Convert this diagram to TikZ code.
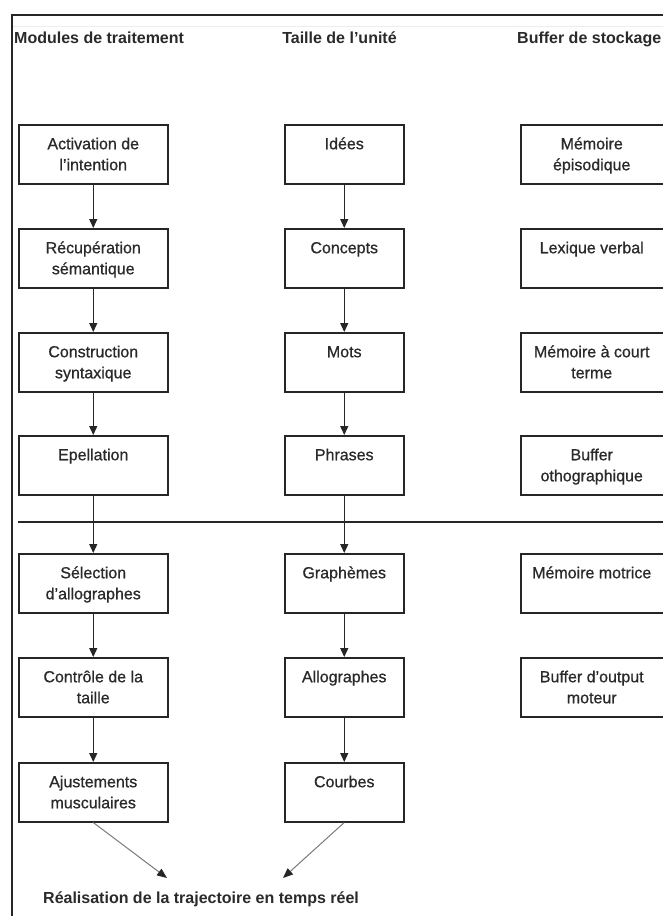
\documentclass[tikz,border=0pt]{standalone}
\usepackage{fontspec}
\setmainfont{Liberation Sans}
\newfontfamily\boxfont{Liberation Sans}[FakeBold=0.7]
\usetikzlibrary{arrows.meta}

\definecolor{ink}{HTML}{2A2A2A}
\definecolor{frame}{HTML}{262626}
\definecolor{soft}{HTML}{7A7A7A}

% fixed-height text block: lines start near the top of the box
\newcommand\boxtext[2]{\vbox to 59pt{\hsize=#1\relax\centering\vskip 9.8pt\relax\strut #2\par\vss}}

\tikzset{
  base font/.style={font=\boxfont\fontsize{16}{21}\selectfont, text=ink},
  head/.style={font=\fontsize{16}{21}\selectfont\bfseries, text=ink, inner sep=0pt, anchor=base west},
  stage/.style={base font, draw=frame, line width=1.5pt, rectangle, inner sep=0pt,
    minimum height=59pt, anchor=north west},
  flow/.style={draw=frame, line width=1.3pt, -{Triangle[length=9pt,width=8pt]}},
  merge/.style={draw=soft, line width=1pt, -{Triangle[length=10pt,width=8pt,fill=frame,color=frame]}},
}

\begin{document}
\begin{tikzpicture}[x=1pt, y=-1pt]
  \useasboundingbox (0,0) rectangle (663,916);
  \fill[white] (0,0) rectangle (663,916);
  \clip (0,0) rectangle (663,916);

  % outer frame (top and left edges) and the thin rule under it
  \draw[draw=frame, line width=2pt] (11.5,930) -- (11.5,15) -- (680,15);
  \draw[draw=black!7, line width=1.5pt] (13,26.5) -- (680,26.5);

  % column headings
  \node[head] (h1) at (14,43) {Modules de traitement};
  \node[head, anchor=base] (h2) at (339.5,43) {Taille de l’unité};
  \node[head] (h3) at (517,43) {Buffer de stockage};

  % processing modules
  \node[stage] (a1) at (18,124) {\boxtext{149pt}{Activation de\\l’intention}};
  \node[stage] (a2) at (18,228) {\boxtext{149pt}{Récupération\\sémantique}};
  \node[stage] (a3) at (18,332) {\boxtext{149pt}{Construction\\syntaxique}};
  \node[stage] (a4) at (18,435) {\boxtext{149pt}{Epellation}};
  \node[stage] (a5) at (18,553) {\boxtext{149pt}{Sélection\\d’allographes}};
  \node[stage] (a6) at (18,657) {\boxtext{149pt}{Contrôle de la\\taille}};
  \node[stage] (a7) at (18,762) {\boxtext{149pt}{Ajustements\\musculaires}};

  % unit size
  \node[stage] (b1) at (284,124) {\boxtext{119pt}{Idées}};
  \node[stage] (b2) at (284,228) {\boxtext{119pt}{Concepts}};
  \node[stage] (b3) at (284,332) {\boxtext{119pt}{Mots}};
  \node[stage] (b4) at (284,435) {\boxtext{119pt}{Phrases}};
  \node[stage] (b5) at (284,553) {\boxtext{119pt}{Graphèmes}};
  \node[stage] (b6) at (284,657) {\boxtext{119pt}{Allographes}};
  \node[stage] (b7) at (284,762) {\boxtext{119pt}{Courbes}};

  % storage buffers (open towards the right edge)
  \node[stage] (c1) at (520,124) {\hbox{\boxtext{142pt}{Mémoire\\épisodique}\hskip 12pt}};
  \node[stage] (c2) at (520,228) {\hbox{\boxtext{142pt}{Lexique verbal}\hskip 12pt}};
  \node[stage] (c3) at (520,332) {\hbox{\boxtext{142pt}{Mémoire à court\\terme}\hskip 12pt}};
  \node[stage] (c4) at (520,435) {\hbox{\boxtext{142pt}{Buffer\\othographique}\hskip 12pt}};
  \node[stage] (c5) at (520,553) {\hbox{\boxtext{142pt}{Mémoire motrice}\hskip 12pt}};
  \node[stage] (c6) at (520,657) {\hbox{\boxtext{142pt}{Buffer d’output\\moteur}\hskip 12pt}};

  % divider between central and peripheral stages
  \draw[draw=frame, line width=1.5pt] (18,522) -- (680,522);

  % vertical flow
  \foreach \i/\j in {1/2,2/3,3/4,4/5,5/6,6/7}{
    \draw[flow] (a\i.south) -- (a\j.north);
    \draw[flow] (b\i.south) -- (b\j.north);
  }

  % final output
  \node[head] (out) at (43,903) {Réalisation de la trajectoire en temps réel};
  \coordinate (g1) at (167,878);
  \coordinate (g2) at (283,878);
  \draw[merge] (a7.south) -- (g1);
  \draw[merge] (b7.south) -- (g2);
\end{tikzpicture}
\end{document}
